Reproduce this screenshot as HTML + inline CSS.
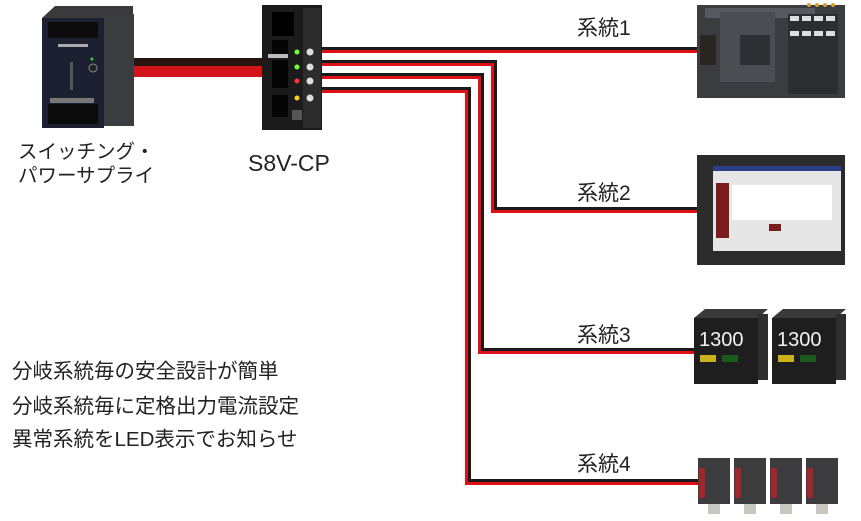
<!DOCTYPE html>
<html><head><meta charset="utf-8"><style>
html,body{margin:0;padding:0;background:#fff;width:861px;height:521px;overflow:hidden}
svg{display:block}
text{font-family:"Liberation Sans","Noto Sans CJK JP",sans-serif;fill:#222}
</style></head><body>
<svg width="861" height="521" viewBox="0 0 861 521" xmlns="http://www.w3.org/2000/svg">
<!-- main cable -->
<rect x="130" y="58" width="135" height="8" fill="#2a1410"/>
<rect x="130" y="66" width="135" height="11" fill="#d4141a"/>
<g fill="none" stroke-width="3">
 <polyline points="320,48.5 700,48.5" stroke="#1a1a1a"/>
 <polyline points="320,51.5 700,51.5" stroke="#e01018"/>
 <polyline points="320,61.5 495.5,61.5 495.5,208.5 700,208.5" stroke="#1a1a1a"/>
 <polyline points="320,64.5 492.5,64.5 492.5,211.5 700,211.5" stroke="#e01018"/>
 <polyline points="320,74.5 482.5,74.5 482.5,349.5 700,349.5" stroke="#1a1a1a"/>
 <polyline points="320,77.5 479.5,77.5 479.5,352.5 700,352.5" stroke="#e01018"/>
 <polyline points="320,88.5 469.5,88.5 469.5,480.5 700,480.5" stroke="#1a1a1a"/>
 <polyline points="320,91.5 466.5,91.5 466.5,483.5 700,483.5" stroke="#e01018"/>
</g>
<!-- power supply -->
<polygon points="42,18 55,6 133,6 133,20 104,20" fill="#3a3a3c"/>
<rect x="104" y="14" width="30" height="112" fill="#3b3c40"/>
<rect x="42" y="18" width="62" height="110" fill="#1c2030"/>
<rect x="48" y="22" width="50" height="16" fill="#0c0c0c"/>
<rect x="48" y="104" width="50" height="20" fill="#0c0c0c"/>
<rect x="50" y="98" width="44" height="5" fill="#777"/>
<rect x="58" y="44" width="30" height="3" fill="#aaa"/>
<rect x="70" y="62" width="3" height="28" fill="#555"/>
<circle cx="93" cy="68" r="4" fill="#222" stroke="#888"/>
<circle cx="92" cy="59" r="1.5" fill="#4c4"/>
<!-- S8V-CP -->
<rect x="262" y="5" width="60" height="125" fill="#1b1b1b"/>
<rect x="303" y="8" width="18" height="120" fill="#2c2c2c"/>
<rect x="272" y="12" width="22" height="24" fill="#000"/>
<rect x="272" y="40" width="16" height="14" fill="#050505"/>
<rect x="272" y="60" width="16" height="28" fill="#050505"/>
<rect x="272" y="95" width="16" height="22" fill="#050505"/>
<rect x="268" y="54" width="20" height="4" fill="#bbb"/>
<circle cx="297" cy="52" r="2.5" fill="#7f3"/>
<circle cx="297" cy="67" r="2.5" fill="#7f3"/>
<circle cx="297" cy="81" r="2.5" fill="#f33"/>
<circle cx="297" cy="98" r="2.5" fill="#fc2"/>
<circle cx="310" cy="52" r="3.5" fill="#ddd"/>
<circle cx="310" cy="67" r="3.5" fill="#ddd"/>
<circle cx="310" cy="81" r="3.5" fill="#ddd"/>
<circle cx="310" cy="98" r="3.5" fill="#ddd"/>
<rect x="292" y="110" width="10" height="10" fill="#555"/>
<!-- PLC -->
<rect x="697" y="5" width="148" height="93" fill="#3a3c40"/>
<rect x="705" y="8" width="110" height="10" fill="#565a60"/>
<rect x="720" y="12" width="55" height="70" fill="#4a4d52"/>
<rect x="740" y="35" width="30" height="30" fill="#2e3034"/>
<rect x="700" y="35" width="16" height="30" fill="#2a2520"/>
<rect x="788" y="14" width="50" height="80" fill="#2c2d30"/>
<g fill="#ddd"><rect x="790" y="16" width="9" height="5"/><rect x="802" y="16" width="9" height="5"/><rect x="814" y="16" width="9" height="5"/><rect x="826" y="16" width="9" height="5"/><rect x="790" y="31" width="9" height="5"/><rect x="802" y="31" width="9" height="5"/><rect x="814" y="31" width="9" height="5"/><rect x="826" y="31" width="9" height="5"/></g>
<g fill="#d9a030"><circle cx="809" cy="5" r="2"/><circle cx="817" cy="5" r="2"/><circle cx="825" cy="5" r="2"/><circle cx="833" cy="5" r="2"/></g>
<!-- HMI -->
<rect x="697" y="155" width="148" height="110" fill="#2b2b2b"/>
<rect x="713" y="166" width="128" height="85" fill="#e6e6e6"/>
<rect x="713" y="166" width="128" height="5" fill="#2a3f88"/>
<rect x="716" y="183" width="13" height="55" fill="#7a1c1c"/>
<rect x="769" y="193" width="12" height="4" fill="#7a1c1c"/>
<rect x="769" y="224" width="12" height="7" fill="#7a1c1c"/>
<rect x="732" y="185" width="100" height="35" fill="#fff"/>
<!-- Temp controllers -->
<g>
<rect x="694" y="318" width="64" height="66" fill="#1e1e1e"/>
<polygon points="694,318 705,309 768,309 758,318" fill="#3a3a3a"/>
<rect x="758" y="314" width="10" height="66" fill="#2e2e2e"/>
<text x="699" y="346" style="font-size:20px;fill:#f2f2f2">1300</text>
<rect x="700" y="355" width="16" height="7" fill="#c8b418"/>
<rect x="722" y="355" width="16" height="7" fill="#1c5a1c"/>
<rect x="772" y="318" width="64" height="66" fill="#1e1e1e"/>
<polygon points="772,318 783,309 846,309 836,318" fill="#3a3a3a"/>
<rect x="836" y="314" width="10" height="66" fill="#2e2e2e"/>
<text x="777" y="346" style="font-size:20px;fill:#f2f2f2">1300</text>
<rect x="778" y="355" width="16" height="7" fill="#c8b418"/>
<rect x="800" y="355" width="16" height="7" fill="#1c5a1c"/>
</g>
<!-- sensors -->
<g>
<rect x="698" y="458" width="32" height="46" fill="#3c3c3e"/><rect x="699" y="468" width="6" height="30" fill="#a0282a"/><rect x="708" y="504" width="12" height="10" fill="#c8c8c0"/>
<rect x="734" y="458" width="32" height="46" fill="#3c3c3e"/><rect x="735" y="468" width="6" height="30" fill="#a0282a"/><rect x="744" y="504" width="12" height="10" fill="#c8c8c0"/>
<rect x="770" y="458" width="32" height="46" fill="#3c3c3e"/><rect x="771" y="468" width="6" height="30" fill="#a0282a"/><rect x="780" y="504" width="12" height="10" fill="#c8c8c0"/>
<rect x="806" y="458" width="32" height="46" fill="#3c3c3e"/><rect x="807" y="468" width="6" height="30" fill="#a0282a"/><rect x="816" y="504" width="12" height="10" fill="#c8c8c0"/>
</g>
<!-- labels -->
<g style="font-size:21px">
<text x="577" y="35">系統1</text>
<text x="577" y="200">系統2</text>
<text x="577" y="342">系統3</text>
<text x="577" y="471">系統4</text>
</g>
<g style="font-size:19.5px">
<text x="18" y="158">スイッチング・</text>
<text x="18" y="182">パワーサプライ</text>
</g>
<text x="248" y="171" style="font-size:23px">S8V-CP</text>
<g style="font-size:20.5px">
<text x="12" y="378">分岐系統毎の安全設計が簡単</text>
<text x="12" y="413">分岐系統毎に定格出力電流設定</text>
<text x="12" y="446">異常系統をLED表示でお知らせ</text>
</g>
</svg>
</body></html>
